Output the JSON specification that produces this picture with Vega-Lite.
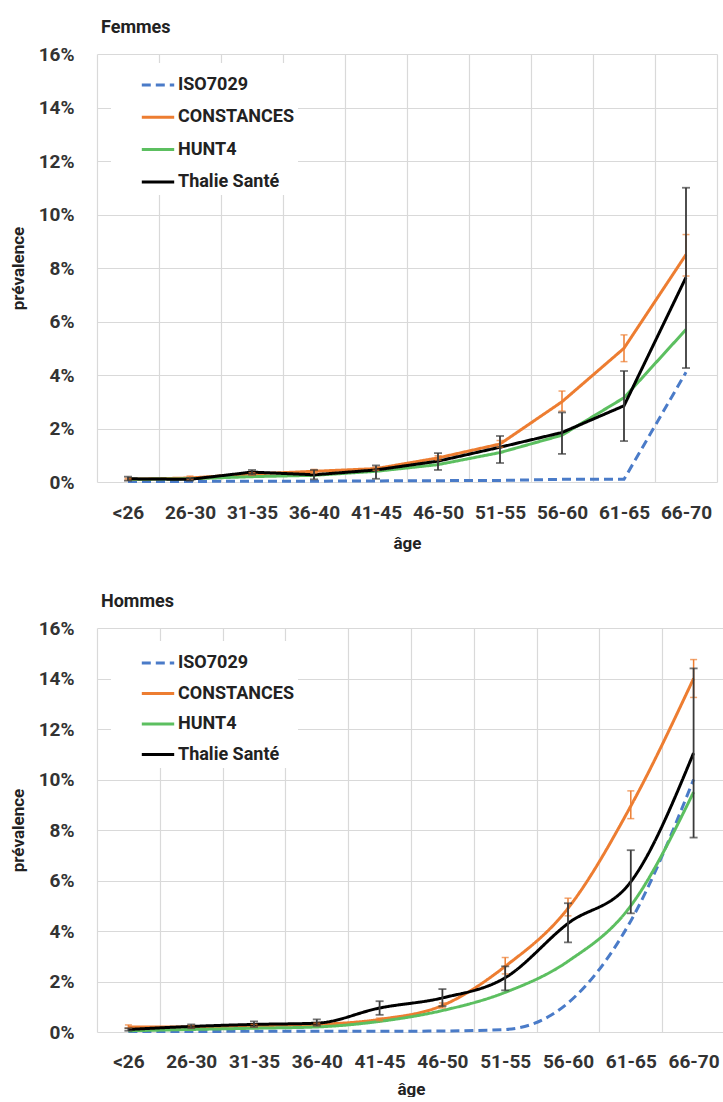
{
  "$schema": "https://vega.github.io/schema/vega-lite/v6.json",
  "padding": {"left": 9, "top": 19, "right": 0, "bottom": 0},
  "spacing": 42,
  "resolve": {"scale": {"color": "independent", "strokeDash": "independent"}, "legend": {"color": "independent", "strokeDash": "independent"}},
  "config": {
    "font": "Roboto",
    "view": {"stroke": null},
    "axis": {
      "labelFont": "Roboto", "labelFontWeight": "bold", "labelFontSize": 19, "labelColor": "#333333",
      "titleFont": "Roboto", "titleFontWeight": "bold", "titleFontSize": 17, "titleColor": "#222222",
      "gridColor": "#d9d9d9", "gridWidth": 1.2, "domain": false, "ticks": false
    },
    "legend": {
      "labelFont": "Roboto", "labelFontWeight": "bold", "labelFontSize": 18, "labelColor": "#222222"
    },
    "title": {"font": "Roboto", "fontWeight": "bold", "fontSize": 18, "color": "#222222", "anchor": "start", "frame": "group", "dx": 4, "offset": 8}
  },
  "datasets": {
    "femmes": [
      {"age": "<26", "series": "ISO7029", "value": 0.02},
      {"age": "26-30", "series": "ISO7029", "value": 0.02},
      {"age": "31-35", "series": "ISO7029", "value": 0.03},
      {"age": "36-40", "series": "ISO7029", "value": 0.03},
      {"age": "41-45", "series": "ISO7029", "value": 0.04},
      {"age": "46-50", "series": "ISO7029", "value": 0.05},
      {"age": "51-55", "series": "ISO7029", "value": 0.06},
      {"age": "56-60", "series": "ISO7029", "value": 0.1},
      {"age": "61-65", "series": "ISO7029", "value": 0.1},
      {"age": "66-70", "series": "ISO7029", "value": 4.1},
      {"age": "<26", "series": "CONSTANCES", "value": 0.1},
      {"age": "26-30", "series": "CONSTANCES", "value": 0.15},
      {"age": "31-35", "series": "CONSTANCES", "value": 0.3},
      {"age": "36-40", "series": "CONSTANCES", "value": 0.4},
      {"age": "41-45", "series": "CONSTANCES", "value": 0.5},
      {"age": "46-50", "series": "CONSTANCES", "value": 0.9},
      {"age": "51-55", "series": "CONSTANCES", "value": 1.42},
      {"age": "56-60", "series": "CONSTANCES", "value": 3.0},
      {"age": "61-65", "series": "CONSTANCES", "value": 5.0},
      {"age": "66-70", "series": "CONSTANCES", "value": 8.5},
      {"age": "<26", "series": "HUNT4", "value": 0.1},
      {"age": "26-30", "series": "HUNT4", "value": 0.12},
      {"age": "31-35", "series": "HUNT4", "value": 0.2},
      {"age": "36-40", "series": "HUNT4", "value": 0.25},
      {"age": "41-45", "series": "HUNT4", "value": 0.4},
      {"age": "46-50", "series": "HUNT4", "value": 0.65},
      {"age": "51-55", "series": "HUNT4", "value": 1.1},
      {"age": "56-60", "series": "HUNT4", "value": 1.75},
      {"age": "61-65", "series": "HUNT4", "value": 3.15},
      {"age": "66-70", "series": "HUNT4", "value": 5.7},
      {"age": "<26", "series": "Thalie Santé", "value": 0.12},
      {"age": "26-30", "series": "Thalie Santé", "value": 0.1},
      {"age": "31-35", "series": "Thalie Santé", "value": 0.37},
      {"age": "36-40", "series": "Thalie Santé", "value": 0.27},
      {"age": "41-45", "series": "Thalie Santé", "value": 0.45},
      {"age": "46-50", "series": "Thalie Santé", "value": 0.78},
      {"age": "51-55", "series": "Thalie Santé", "value": 1.3},
      {"age": "56-60", "series": "Thalie Santé", "value": 1.85},
      {"age": "61-65", "series": "Thalie Santé", "value": 2.85},
      {"age": "66-70", "series": "Thalie Santé", "value": 7.65}
    ],
    "femmes_err": [
      {"age": "<26", "series": "CONSTANCES", "lo": 0.08, "hi": 0.14},
      {"age": "26-30", "series": "CONSTANCES", "lo": 0.1, "hi": 0.22},
      {"age": "31-35", "series": "CONSTANCES", "lo": 0.25, "hi": 0.35},
      {"age": "36-40", "series": "CONSTANCES", "lo": 0.33, "hi": 0.47},
      {"age": "41-45", "series": "CONSTANCES", "lo": 0.44, "hi": 0.56},
      {"age": "46-50", "series": "CONSTANCES", "lo": 0.82, "hi": 0.98},
      {"age": "51-55", "series": "CONSTANCES", "lo": 1.3, "hi": 1.55},
      {"age": "56-60", "series": "CONSTANCES", "lo": 2.65, "hi": 3.4},
      {"age": "61-65", "series": "CONSTANCES", "lo": 4.5, "hi": 5.5},
      {"age": "66-70", "series": "CONSTANCES", "lo": 7.7, "hi": 9.25},
      {"age": "<26", "series": "Thalie Santé", "lo": 0.05, "hi": 0.2},
      {"age": "26-30", "series": "Thalie Santé", "lo": 0.05, "hi": 0.15},
      {"age": "31-35", "series": "Thalie Santé", "lo": 0.28, "hi": 0.45},
      {"age": "36-40", "series": "Thalie Santé", "lo": 0.1, "hi": 0.45},
      {"age": "41-45", "series": "Thalie Santé", "lo": 0.12, "hi": 0.62},
      {"age": "46-50", "series": "Thalie Santé", "lo": 0.45, "hi": 1.08},
      {"age": "51-55", "series": "Thalie Santé", "lo": 0.71, "hi": 1.72},
      {"age": "56-60", "series": "Thalie Santé", "lo": 1.05, "hi": 2.6},
      {"age": "61-65", "series": "Thalie Santé", "lo": 1.53, "hi": 4.15},
      {"age": "66-70", "series": "Thalie Santé", "lo": 4.26, "hi": 11.0}
    ],
    "hommes": [
      {"age": "<26", "series": "ISO7029", "value": 0.02},
      {"age": "26-30", "series": "ISO7029", "value": 0.02},
      {"age": "31-35", "series": "ISO7029", "value": 0.03},
      {"age": "36-40", "series": "ISO7029", "value": 0.03},
      {"age": "41-45", "series": "ISO7029", "value": 0.03},
      {"age": "46-50", "series": "ISO7029", "value": 0.04},
      {"age": "51-55", "series": "ISO7029", "value": 0.1},
      {"age": "56-60", "series": "ISO7029", "value": 1.15},
      {"age": "61-65", "series": "ISO7029", "value": 4.4},
      {"age": "66-70", "series": "ISO7029", "value": 10.0},
      {"age": "<26", "series": "CONSTANCES", "value": 0.2},
      {"age": "26-30", "series": "CONSTANCES", "value": 0.2},
      {"age": "31-35", "series": "CONSTANCES", "value": 0.25},
      {"age": "36-40", "series": "CONSTANCES", "value": 0.3},
      {"age": "41-45", "series": "CONSTANCES", "value": 0.5},
      {"age": "46-50", "series": "CONSTANCES", "value": 1.05},
      {"age": "51-55", "series": "CONSTANCES", "value": 2.6},
      {"age": "56-60", "series": "CONSTANCES", "value": 4.9},
      {"age": "61-65", "series": "CONSTANCES", "value": 8.95},
      {"age": "66-70", "series": "CONSTANCES", "value": 14.0},
      {"age": "<26", "series": "HUNT4", "value": 0.05},
      {"age": "26-30", "series": "HUNT4", "value": 0.1},
      {"age": "31-35", "series": "HUNT4", "value": 0.15},
      {"age": "36-40", "series": "HUNT4", "value": 0.2},
      {"age": "41-45", "series": "HUNT4", "value": 0.42},
      {"age": "46-50", "series": "HUNT4", "value": 0.85},
      {"age": "51-55", "series": "HUNT4", "value": 1.57},
      {"age": "56-60", "series": "HUNT4", "value": 2.8},
      {"age": "61-65", "series": "HUNT4", "value": 5.0},
      {"age": "66-70", "series": "HUNT4", "value": 9.5},
      {"age": "<26", "series": "Thalie Santé", "value": 0.1},
      {"age": "26-30", "series": "Thalie Santé", "value": 0.22},
      {"age": "31-35", "series": "Thalie Santé", "value": 0.3},
      {"age": "36-40", "series": "Thalie Santé", "value": 0.35},
      {"age": "41-45", "series": "Thalie Santé", "value": 0.95},
      {"age": "46-50", "series": "Thalie Santé", "value": 1.35},
      {"age": "51-55", "series": "Thalie Santé", "value": 2.15},
      {"age": "56-60", "series": "Thalie Santé", "value": 4.3},
      {"age": "61-65", "series": "Thalie Santé", "value": 5.95},
      {"age": "66-70", "series": "Thalie Santé", "value": 11.05}
    ],
    "hommes_err": [
      {"age": "<26", "series": "CONSTANCES", "lo": 0.15, "hi": 0.28},
      {"age": "26-30", "series": "CONSTANCES", "lo": 0.15, "hi": 0.25},
      {"age": "31-35", "series": "CONSTANCES", "lo": 0.2, "hi": 0.3},
      {"age": "36-40", "series": "CONSTANCES", "lo": 0.25, "hi": 0.35},
      {"age": "41-45", "series": "CONSTANCES", "lo": 0.45, "hi": 0.55},
      {"age": "46-50", "series": "CONSTANCES", "lo": 0.95, "hi": 1.15},
      {"age": "51-55", "series": "CONSTANCES", "lo": 2.3, "hi": 2.95},
      {"age": "56-60", "series": "CONSTANCES", "lo": 4.6, "hi": 5.3},
      {"age": "61-65", "series": "CONSTANCES", "lo": 8.45, "hi": 9.55},
      {"age": "66-70", "series": "CONSTANCES", "lo": 13.25, "hi": 14.75},
      {"age": "<26", "series": "Thalie Santé", "lo": 0.05, "hi": 0.15},
      {"age": "26-30", "series": "Thalie Santé", "lo": 0.15, "hi": 0.3},
      {"age": "31-35", "series": "Thalie Santé", "lo": 0.2, "hi": 0.42},
      {"age": "36-40", "series": "Thalie Santé", "lo": 0.25, "hi": 0.5},
      {"age": "41-45", "series": "Thalie Santé", "lo": 0.68, "hi": 1.22},
      {"age": "46-50", "series": "Thalie Santé", "lo": 1.02, "hi": 1.7},
      {"age": "51-55", "series": "Thalie Santé", "lo": 1.65, "hi": 2.6},
      {"age": "56-60", "series": "Thalie Santé", "lo": 3.55, "hi": 5.1},
      {"age": "61-65", "series": "Thalie Santé", "lo": 4.7, "hi": 7.2},
      {"age": "66-70", "series": "Thalie Santé", "lo": 7.7, "hi": 14.4}
    ]
  },
  "vconcat": [
    {
      "title": {"text": "Femmes"},
      "width": 620,
      "height": 428,
      "layer": [
        {
          "data": {"name": "femmes"},
          "mark": {"type": "line", "strokeWidth": 3, "interpolate": "linear"},
          "encoding": {
            "x": {"field": "age", "type": "ordinal", "sort": ["<26", "26-30", "31-35", "36-40", "41-45", "46-50", "51-55", "56-60", "61-65", "66-70"],
              "scale": {"paddingInner": 0, "paddingOuter": 0},
              "axis": {"title": "âge", "labelAngle": 0, "tickBand": "extent", "grid": true, "labelPadding": 21, "titlePadding": 13}},
            "y": {"field": "value", "type": "quantitative", "scale": {"domain": [0, 16]},
              "axis": {"title": "prévalence", "values": [0, 2, 4, 6, 8, 10, 12, 14, 16], "labelExpr": "datum.value + '%'", "labelPadding": 23, "titlePadding": 11}},
            "color": {"field": "series", "type": "nominal",
              "scale": {"domain": ["ISO7029", "CONSTANCES", "HUNT4", "Thalie Santé"], "range": ["#4a7bc8", "#ed7d31", "#5cbf60", "#000000"]},
              "legend": {"title": null, "orient": "none", "legendX": 14, "legendY": 9, "fillColor": "white", "padding": 4, "symbolType": "stroke", "symbolSize": 1050, "symbolStrokeWidth": 3, "symbolOffset": 25, "labelOffset": 2, "rowPadding": 5.3}},
            "strokeDash": {"field": "series", "type": "nominal",
              "scale": {"domain": ["ISO7029", "CONSTANCES", "HUNT4", "Thalie Santé"], "range": [[9, 5], [1, 0], [1, 0], [1, 0]]},
              "legend": {"title": null, "orient": "none", "legendX": 14, "legendY": 9, "fillColor": "white", "padding": 4, "symbolType": "stroke", "symbolSize": 1050, "symbolStrokeWidth": 3, "symbolOffset": 25, "labelOffset": 2, "rowPadding": 5.3}}
          }
        },
        {
          "data": {"name": "femmes_err"},
          "transform": [{"filter": "datum.series === 'CONSTANCES'"}],
          "mark": {"type": "errorbar", "ticks": true, "color": "#ed7d31", "thickness": 1.5, "size": 7},
          "encoding": {
            "x": {"field": "age", "type": "ordinal", "sort": ["<26", "26-30", "31-35", "36-40", "41-45", "46-50", "51-55", "56-60", "61-65", "66-70"]},
            "y": {"field": "lo", "type": "quantitative", "title": "prévalence"},
            "y2": {"field": "hi"}
          }
        },
        {
          "data": {"name": "femmes_err"},
          "transform": [{"filter": "datum.series === 'Thalie Santé'"}],
          "mark": {"type": "errorbar", "ticks": true, "color": "#3a3a3a", "thickness": 1.8, "size": 8},
          "encoding": {
            "x": {"field": "age", "type": "ordinal", "sort": ["<26", "26-30", "31-35", "36-40", "41-45", "46-50", "51-55", "56-60", "61-65", "66-70"]},
            "y": {"field": "lo", "type": "quantitative", "title": "prévalence"},
            "y2": {"field": "hi"}
          }
        }
      ]
    },
    {
      "title": {"text": "Hommes"},
      "width": 628,
      "height": 404,
      "layer": [
        {
          "data": {"name": "hommes"},
          "mark": {"type": "line", "strokeWidth": 3, "interpolate": "monotone"},
          "encoding": {
            "x": {"field": "age", "type": "ordinal", "sort": ["<26", "26-30", "31-35", "36-40", "41-45", "46-50", "51-55", "56-60", "61-65", "66-70"],
              "scale": {"paddingInner": 0, "paddingOuter": 0},
              "axis": {"title": "âge", "labelAngle": 0, "tickBand": "extent", "grid": true, "labelPadding": 20, "titlePadding": 10}},
            "y": {"field": "value", "type": "quantitative", "scale": {"domain": [0, 16]},
              "axis": {"title": "prévalence", "values": [0, 2, 4, 6, 8, 10, 12, 14, 16], "labelExpr": "datum.value + '%'", "labelPadding": 23, "titlePadding": 11}},
            "color": {"field": "series", "type": "nominal",
              "scale": {"domain": ["ISO7029", "CONSTANCES", "HUNT4", "Thalie Santé"], "range": ["#4a7bc8", "#ed7d31", "#5cbf60", "#000000"]},
              "legend": {"title": null, "orient": "none", "legendX": 14, "legendY": 13, "fillColor": "white", "padding": 4, "symbolType": "stroke", "symbolSize": 1050, "symbolStrokeWidth": 3, "symbolOffset": 25, "labelOffset": 2, "rowPadding": 3.5}},
            "strokeDash": {"field": "series", "type": "nominal",
              "scale": {"domain": ["ISO7029", "CONSTANCES", "HUNT4", "Thalie Santé"], "range": [[9, 5], [1, 0], [1, 0], [1, 0]]},
              "legend": {"title": null, "orient": "none", "legendX": 14, "legendY": 13, "fillColor": "white", "padding": 4, "symbolType": "stroke", "symbolSize": 1050, "symbolStrokeWidth": 3, "symbolOffset": 25, "labelOffset": 2, "rowPadding": 3.5}}
          }
        },
        {
          "data": {"name": "hommes_err"},
          "transform": [{"filter": "datum.series === 'CONSTANCES'"}],
          "mark": {"type": "errorbar", "ticks": true, "color": "#ed7d31", "thickness": 1.5, "size": 7},
          "encoding": {
            "x": {"field": "age", "type": "ordinal", "sort": ["<26", "26-30", "31-35", "36-40", "41-45", "46-50", "51-55", "56-60", "61-65", "66-70"]},
            "y": {"field": "lo", "type": "quantitative", "title": "prévalence"},
            "y2": {"field": "hi"}
          }
        },
        {
          "data": {"name": "hommes_err"},
          "transform": [{"filter": "datum.series === 'Thalie Santé'"}],
          "mark": {"type": "errorbar", "ticks": true, "color": "#3a3a3a", "thickness": 1.8, "size": 8},
          "encoding": {
            "x": {"field": "age", "type": "ordinal", "sort": ["<26", "26-30", "31-35", "36-40", "41-45", "46-50", "51-55", "56-60", "61-65", "66-70"]},
            "y": {"field": "lo", "type": "quantitative", "title": "prévalence"},
            "y2": {"field": "hi"}
          }
        }
      ]
    }
  ]
}
